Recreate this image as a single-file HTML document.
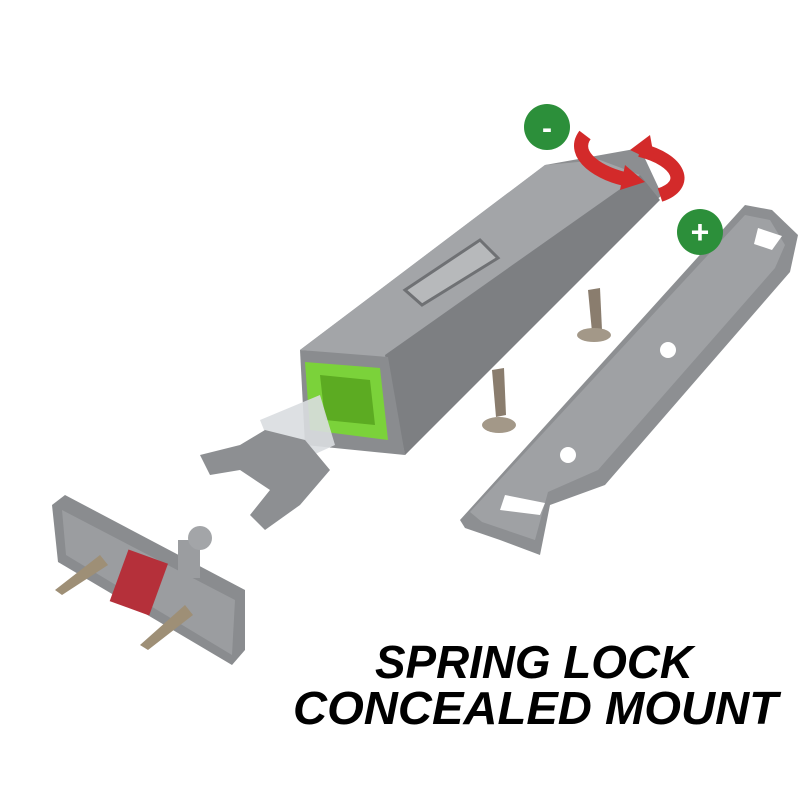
<!DOCTYPE html>
<html><head><meta charset="utf-8"><style>
html,body{margin:0;padding:0;background:#fff;}
svg{display:block}
</style></head><body>
<svg width="800" height="800" viewBox="0 0 800 800" xmlns="http://www.w3.org/2000/svg">
<rect width="800" height="800" fill="#fff"/>
<!-- right bracket plate -->
<polygon points="460,520 745,205 772,210 798,235 790,272 605,485 550,505 540,555 500,540 465,528" fill="#8d8f92"/>
<polygon points="470,512 745,215 770,220 785,245 775,268 598,470 548,492 535,540 482,522" fill="#9fa1a4"/>
<circle cx="668" cy="350" r="8" fill="#fff"/>
<circle cx="568" cy="455" r="8" fill="#fff"/>
<polygon points="505,495 545,503 540,515 500,510" fill="#fff"/>
<polygon points="758,228 782,236 772,250 754,244" fill="#fff"/>
<!-- main body -->
<polygon points="300,350 545,165 640,148 662,195 640,215 405,455 385,355" fill="#8c8e91"/>
<polygon points="300,350 545,165 600,160 640,175 390,360" fill="#a3a5a8"/>
<polygon points="385,355 640,175 660,200 405,455" fill="#7d7f82"/>
<polygon points="300,350 388,357 405,455 305,445" fill="#8a8c8f"/>
<!-- green insert -->
<polygon points="305,362 380,368 388,440 310,430" fill="#7bd23a"/>
<polygon points="320,375 370,380 375,425 325,420" fill="#5cab22"/>
<!-- clear spring -->
<polygon points="260,420 320,395 335,445 280,470" fill="#d9dde0" opacity="0.9"/>
<!-- metal button -->
<polygon points="405,290 480,240 498,258 422,305" fill="#b7b9bb" stroke="#6f7174" stroke-width="3"/>
<!-- clip -->
<polygon points="200,455 240,445 265,430 305,440 330,470 300,505 265,530 250,515 270,490 240,470 210,475" fill="#8d8f92"/>
<!-- screws -->
<polygon points="588,290 600,288 602,330 592,332" fill="#8a7d6e"/>
<ellipse cx="594" cy="335" rx="17" ry="7" fill="#a39888"/>
<polygon points="492,370 504,368 506,415 496,417" fill="#8a7d6e"/>
<ellipse cx="499" cy="425" rx="17" ry="8" fill="#a39888"/>
<!-- small plate -->
<polygon points="52,505 65,495 245,590 245,650 232,665 58,562" fill="#8a8c8f"/>
<polygon points="62,510 235,600 232,655 66,555" fill="#9b9da0"/>
<rect x="118" y="555" width="42" height="55" fill="#b5303a" transform="rotate(20 139 582)"/>
<rect x="178" y="540" width="22" height="38" fill="#9b9da0"/>
<circle cx="200" cy="538" r="12" fill="#a3a5a8"/>
<polygon points="55,590 100,555 108,565 62,595" fill="#9e8f76"/>
<polygon points="140,645 185,605 193,615 148,650" fill="#9e8f76"/>
<!-- red arrows -->
<path d="M585,135 C570,155 600,175 630,180" stroke="#d32a2a" stroke-width="14" fill="none"/>
<path d="M640,150 C680,160 690,185 660,195" stroke="#d32a2a" stroke-width="14" fill="none"/>
<polygon points="625,165 645,182 620,190" fill="#d32a2a"/>
<polygon points="630,150 650,135 655,162" fill="#d32a2a"/>
<!-- green markers -->
<circle cx="547" cy="127" r="23" fill="#2c8f3a"/>
<text x="547" y="138" font-family="Liberation Sans,sans-serif" font-weight="bold" font-size="30" fill="#fff" text-anchor="middle">-</text>
<circle cx="700" cy="232" r="23" fill="#2c8f3a"/>
<text x="700" y="243" font-family="Liberation Sans,sans-serif" font-weight="bold" font-size="32" fill="#fff" text-anchor="middle">+</text>
<!-- heading -->
<text x="375" y="678" textLength="318" lengthAdjust="spacingAndGlyphs" font-family="Liberation Sans,sans-serif" font-weight="bold" font-style="italic" font-size="46" fill="#000">SPRING LOCK</text>
<text x="293" y="724" textLength="485" lengthAdjust="spacingAndGlyphs" font-family="Liberation Sans,sans-serif" font-weight="bold" font-style="italic" font-size="46" fill="#000">CONCEALED MOUNT</text>
</svg>
</body></html>
